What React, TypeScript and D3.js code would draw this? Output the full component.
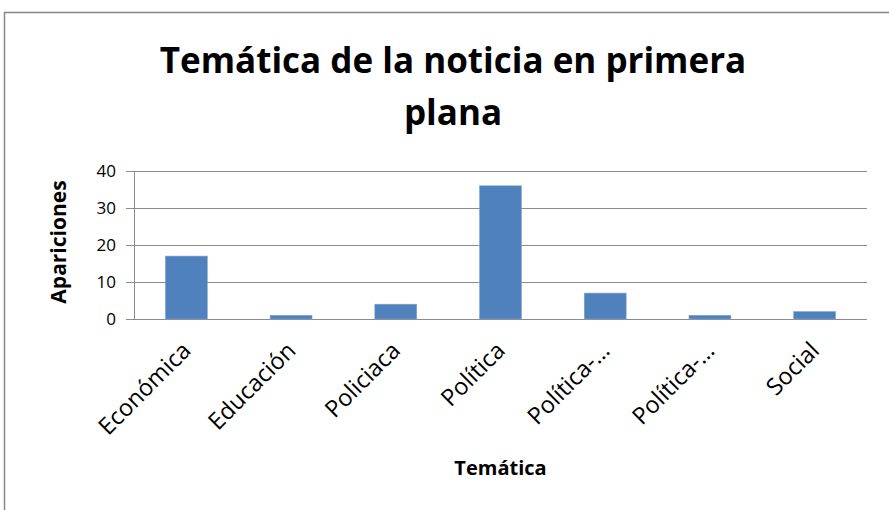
import React, { useEffect, useRef } from 'react';
import * as d3 from 'd3';

// data
const categories = ['Económica', 'Educación', 'Policiaca', 'Política', 'Política-…', 'Política-…', 'Social'];
const apariciones = [17, 1, 4, 36, 7, 1, 2];
const yTicks = [0, 10, 20, 30, 40];
const titleLines = ['Temática de la noticia en primera', 'plana'];

const W = 889, H = 510;
const FONT = '"Open Sans", "Noto Sans", sans-serif';

const App = () => {
  const ref = useRef<SVGSVGElement>(null);

  useEffect(() => {
    const svg = d3.select(ref.current);
    svg.selectAll('*').remove();

    // plot area
    const left = 134, right = 867, top = 171, bottom = 319;

    // outer frame
    svg.append('rect')
      .attr('x', 4.5).attr('y', 12.5)
      .attr('width', W + 20).attr('height', H + 20)
      .attr('fill', 'white')
      .attr('stroke', '#868686')
      .attr('stroke-width', 1.5);

    const x = d3.scaleBand<number>()
      .domain(categories.map((_, i) => i))
      .range([left, right])
      .paddingInner(0.6)
      .paddingOuter(0.3);

    const y = d3.scaleLinear().domain([0, 40]).range([bottom, top]);

    // gridlines
    svg.append('g')
      .selectAll('line')
      .data(yTicks)
      .enter().append('line')
      .attr('x1', left - 8).attr('x2', right)
      .attr('y1', d => Math.round(y(d)) + 0.5)
      .attr('y2', d => Math.round(y(d)) + 0.5)
      .attr('stroke', '#8c8c8c')
      .attr('stroke-width', 1);

    // y axis line
    svg.append('line')
      .attr('x1', left + 0.5).attr('x2', left + 0.5)
      .attr('y1', top).attr('y2', bottom)
      .attr('stroke', '#8c8c8c');

    // y tick labels
    svg.append('g')
      .selectAll('text')
      .data(yTicks)
      .enter().append('text')
      .attr('x', 116)
      .attr('y', d => y(d))
      .attr('dy', '0.36em')
      .attr('text-anchor', 'end')
      .attr('font-family', FONT)
      .attr('font-size', 17)
      .attr('fill', '#000')
      .text(d => d);

    // bars
    svg.append('g')
      .selectAll('rect')
      .data(apariciones)
      .enter().append('rect')
      .attr('x', (_, i) => x(i)!)
      .attr('width', x.bandwidth())
      .attr('y', d => y(d))
      .attr('height', d => y(0) - y(d))
      .attr('fill', '#4f81bd')
      .attr('stroke', '#7fa3cf')
      .attr('stroke-width', 0.6);

    // x labels, rotated
    const cx = (i: number) => x(i)! + x.bandwidth() / 2;
    svg.append('g')
      .selectAll('text')
      .data(categories)
      .enter().append('text')
      .attr('transform', (_, i) => 'translate(' + (cx(i) + 6) + ',' + (bottom + 33) + ') rotate(-45)')
      .attr('text-anchor', 'end')
      .attr('font-family', FONT)
      .attr('font-size', 23.5)
      .attr('fill', '#000')
      .text(d => d);

    // title
    svg.append('g')
      .selectAll('text')
      .data(titleLines)
      .enter().append('text')
      .attr('x', 453)
      .attr('y', (_, i) => 73 + i * 52)
      .attr('text-anchor', 'middle')
      .attr('font-family', FONT)
      .attr('font-weight', 'bold')
      .attr('font-size', 35)
      .attr('fill', '#000')
      .text(d => d);

    // axis titles
    svg.append('text')
      .attr('transform', 'translate(66,242) rotate(-90)')
      .attr('text-anchor', 'middle')
      .attr('font-family', FONT)
      .attr('font-weight', 'bold')
      .attr('font-size', 21)
      .text('Apariciones');

    svg.append('text')
      .attr('x', (left + right) / 2)
      .attr('y', 475)
      .attr('text-anchor', 'middle')
      .attr('font-family', FONT)
      .attr('font-weight', 'bold')
      .attr('font-size', 20)
      .text('Temática');
  }, []);

  return (
    <svg ref={ref} width={W} height={H}
      style={{ position: 'fixed', left: 0, top: 0, background: 'white' }} />
  );
};

export default App;
